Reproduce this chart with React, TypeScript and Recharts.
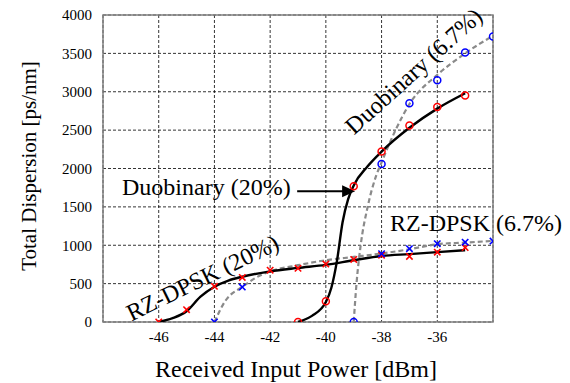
import React from "react";
import {
  ComposedChart, Line, Scatter, XAxis, YAxis, CartesianGrid, ReferenceArea, ReferenceLine,
} from "recharts";

// measured points (markers)
const duo20Pts = [
  { x: -41, y: 0 }, { x: -40, y: 270 }, { x: -39, y: 1770 }, { x: -38, y: 2220 },
  { x: -37, y: 2560 }, { x: -36, y: 2800 }, { x: -35, y: 2950 },
];
const duo67Pts = [
  { x: -39, y: 0 }, { x: -38, y: 2060 }, { x: -37, y: 2850 }, { x: -36, y: 3150 },
  { x: -35, y: 3510 }, { x: -34, y: 3720 },
];
const rz20Pts = [
  { x: -46, y: 0 }, { x: -45, y: 160 }, { x: -44, y: 465 }, { x: -43, y: 580 },
  { x: -42, y: 675 }, { x: -41, y: 700 }, { x: -40, y: 755 }, { x: -39, y: 815 },
  { x: -38, y: 870 }, { x: -37, y: 855 }, { x: -36, y: 910 }, { x: -35, y: 970 },
];
const rz67Pts = [
  { x: -44, y: 0 }, { x: -43, y: 455 }, { x: -38, y: 890 }, { x: -37, y: 955 },
  { x: -36, y: 1020 }, { x: -35, y: 1040 }, { x: -34, y: 1055 },
];

// fitted curves
const duo20Fit = [
  { x: -41, y: 0 }, { x: -40.5, y: 80 }, { x: -40, y: 260 }, { x: -39.8, y: 450 },
  { x: -39.6, y: 800 }, { x: -39.4, y: 1300 }, { x: -39.2, y: 1600 }, { x: -39, y: 1780 },
  { x: -38.5, y: 2030 }, { x: -38, y: 2220 }, { x: -37, y: 2530 }, { x: -36, y: 2780 },
  { x: -35, y: 2980 },
];
const duo67Fit = [
  { x: -39, y: 0 }, { x: -38.9, y: 500 }, { x: -38.75, y: 1000 }, { x: -38.5, y: 1500 },
  { x: -38.2, y: 1900 }, { x: -38, y: 2080 }, { x: -37.5, y: 2500 }, { x: -37, y: 2840 },
  { x: -36, y: 3220 }, { x: -35, y: 3500 }, { x: -34, y: 3730 },
];
const rz20Fit = [
  { x: -46, y: 0 }, { x: -45.5, y: 50 }, { x: -45, y: 140 }, { x: -44.5, y: 330 },
  { x: -44, y: 460 }, { x: -43.5, y: 540 }, { x: -43, y: 590 }, { x: -42, y: 660 },
  { x: -41, y: 705 }, { x: -40, y: 745 }, { x: -39, y: 805 }, { x: -38, y: 860 },
  { x: -37, y: 885 }, { x: -36, y: 910 }, { x: -35, y: 935 },
];
const rz67Fit = [
  { x: -44, y: 0 }, { x: -43.6, y: 280 }, { x: -43, y: 457 }, { x: -42.5, y: 580 },
  { x: -42, y: 660 }, { x: -41, y: 740 }, { x: -40, y: 805 }, { x: -39, y: 848 },
  { x: -38, y: 892 }, { x: -37, y: 948 }, { x: -36, y: 1013 }, { x: -35, y: 1035 },
  { x: -34, y: 1057 },
];

const xTicks = [-46, -44, -42, -40, -38, -36];
const yTicks = [0, 500, 1000, 1500, 2000, 2500, 3000, 3500, 4000];
const arrowSeg = [{ x: -41.03, y: 1705 }, { x: -38.95, y: 1705 }];

const FONT = "Liberation Serif, Times New Roman, Times, DejaVu Serif, serif";

function CircleMark(p: any) {
  if (p.cx == null || p.cy == null) return null;
  return <circle cx={p.cx} cy={p.cy} r={3.5} fill="none" stroke={p.color} strokeWidth={1.5} />;
}

function CrossMark(p: any) {
  if (p.cx == null || p.cy == null) return null;
  const s = 3.2;
  return (
    <g stroke={p.color} strokeWidth={1.6}>
      <line x1={p.cx - s} y1={p.cy - s} x2={p.cx + s} y2={p.cy + s} />
      <line x1={p.cx - s} y1={p.cy + s} x2={p.cx + s} y2={p.cy - s} />
    </g>
  );
}

function Arrow(p: any) {
  const { x1, y1, x2, y2 } = p;
  if (x1 == null) return null;
  const len = 13;
  const hw = 6;
  return (
    <g>
      <line x1={x1} y1={y1} x2={x2 - len + 1} y2={y2} stroke="#000" strokeWidth={2} />
      <polygon points={`${x2},${y2} ${x2 - len},${y2 - hw} ${x2 - len},${y2 + hw}`} fill="#000" />
    </g>
  );
}

export default function App() {
  const tickStyle = { fill: "#000", fontSize: 15, style: { fontFamily: FONT } };
  return (
    <div style={{ position: "absolute", left: 0, top: 0, width: 570, height: 383, background: "#fff", fontFamily: FONT }}>
      <ComposedChart width={570} height={383} margin={{ top: 15, right: 77, left: 63, bottom: 31 }} style={{ fontFamily: FONT }}>
        <CartesianGrid stroke="#000" strokeWidth={0.8} strokeDasharray="3 2" />
        <XAxis
          type="number"
          dataKey="x"
          domain={[-48, -34]}
          ticks={xTicks}
          height={30}
          tick={tickStyle}
          tickLine={false}
          axisLine={false}
          tickSize={6}
          tickMargin={3}
          allowDataOverflow
        />
        <YAxis
          type="number"
          dataKey="y"
          domain={[0, 4000]}
          ticks={yTicks}
          width={40}
          tick={tickStyle}
          tickLine={false}
          axisLine={false}
          tickSize={6}
          tickMargin={5}
          allowDataOverflow
        />
        <ReferenceArea x1={-48} x2={-34} y1={0} y2={4000} fill="none" stroke="#808080" strokeWidth={1.5} strokeOpacity={1} fillOpacity={0} />
        <Line data={rz67Fit} dataKey="y" type="monotone" stroke="#8a8a8a" strokeWidth={2.2} strokeDasharray="5 3" dot={false} isAnimationActive={false} />
        <Line data={duo67Fit} dataKey="y" type="monotone" stroke="#8a8a8a" strokeWidth={2.2} strokeDasharray="5 3" dot={false} isAnimationActive={false} />
        <Line data={rz20Fit} dataKey="y" type="monotone" stroke="#000" strokeWidth={2.4} dot={false} isAnimationActive={false} />
        <Line data={duo20Fit} dataKey="y" type="monotone" stroke="#000" strokeWidth={2.4} dot={false} isAnimationActive={false} />
        <Scatter data={rz20Pts} shape={(p: any) => <CrossMark {...p} color="#ff0000" />} isAnimationActive={false} />
        <Scatter data={rz67Pts} shape={(p: any) => <CrossMark {...p} color="#0000ff" />} isAnimationActive={false} />
        <Scatter data={duo20Pts} shape={(p: any) => <CircleMark {...p} color="#ff0000" />} isAnimationActive={false} />
        <Scatter data={duo67Pts} shape={(p: any) => <CircleMark {...p} color="#0000ff" />} isAnimationActive={false} />
        <ReferenceLine segment={arrowSeg} shape={(p: any) => <Arrow {...p} />} ifOverflow="visible" />
      </ComposedChart>
      <svg width={570} height={383} style={{ position: "absolute", left: 0, top: 0, pointerEvents: "none", fontFamily: FONT }}>
        <g fill="#000">
          <text x={296} y={377} fontSize={24} textAnchor="middle">Received Input Power [dBm]</text>
          <text x={0} y={0} fontSize={21} textAnchor="middle" transform="translate(36,166) rotate(-90)">Total Dispersion [ps/nm]</text>
          <text x={122} y={195} fontSize={24}>Duobinary (20%)</text>
          <text x={390} y={231} fontSize={24}>RZ-DPSK (6.7%)</text>
          <text x={0} y={0} fontSize={24} textAnchor="middle" transform="translate(206,285) rotate(-26)">RZ-DPSK (20%)</text>
          <text x={0} y={0} fontSize={24} textAnchor="middle" transform="translate(419,77) rotate(-42)">Duobinary (6.7%)</text>
        </g>
      </svg>
    </div>
  );
}
